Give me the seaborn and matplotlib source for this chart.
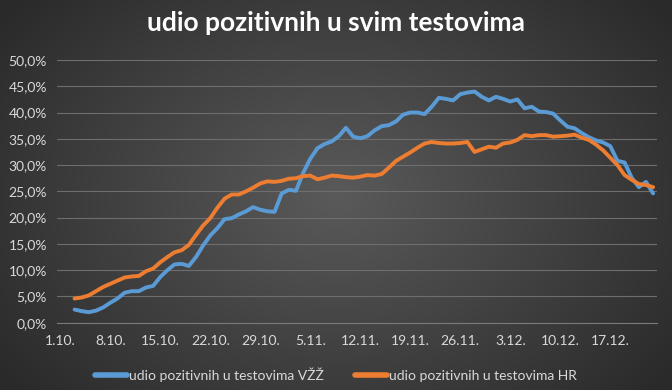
import numpy as np
import pandas as pd
import matplotlib
matplotlib.use("Agg")
import matplotlib.pyplot as plt
from matplotlib.lines import Line2D
import seaborn as sns

# ---------------- data ----------------
start_date = "2020-10-01"
end_date = "2020-12-23"
first_data_day = 2  # data begins on 3.10.

series_names = ["udio pozitivnih u testovima VŽŽ", "udio pozitivnih u testovima HR"]

vzz_pct = [2.5, 2.2, 2.0, 2.3, 2.9, 3.8, 4.6, 5.7, 6.0, 6.0, 6.7, 7.0, 8.7, 10.0,
           11.1, 11.2, 10.8, 12.5, 14.7, 16.6, 18.0, 19.7, 19.9, 20.6, 21.2, 22.0,
           21.5, 21.2, 21.1, 24.6, 25.3, 25.1, 28.5, 31.2, 33.2, 34.0, 34.5, 35.5,
           37.1, 35.4, 35.1, 35.5, 36.6, 37.4, 37.6, 38.3, 39.6, 40.0, 40.0, 39.7,
           41.1, 42.8, 42.6, 42.3, 43.5, 43.8, 44.0, 43.0, 42.3, 43.0, 42.6, 42.1,
           42.5, 40.8, 41.1, 40.2, 40.1, 39.8, 38.5, 37.3, 37.0, 36.1, 35.3, 34.7,
           34.3, 33.6, 30.8, 30.5, 27.6, 25.8, 26.8, 24.6]

hr_pct = [4.6, 4.8, 5.2, 6.0, 6.8, 7.4, 8.0, 8.6, 8.8, 8.9, 9.8, 10.3, 11.5, 12.5,
          13.4, 13.8, 14.8, 16.7, 18.5, 19.9, 21.9, 23.6, 24.4, 24.4, 25.0, 25.7,
          26.5, 26.9, 26.8, 27.0, 27.4, 27.5, 27.9, 28.0, 27.3, 27.6, 28.0, 27.9,
          27.7, 27.6, 27.8, 28.1, 28.0, 28.3, 29.5, 30.8, 31.6, 32.4, 33.3, 34.1,
          34.4, 34.2, 34.1, 34.1, 34.2, 34.4, 32.5, 33.0, 33.5, 33.3, 34.1, 34.3,
          34.8, 35.7, 35.5, 35.7, 35.7, 35.4, 35.5, 35.6, 35.8, 35.2, 34.8, 33.9,
          32.8, 31.4, 30.0, 28.1, 27.2, 26.4, 26.2, 25.8]

colors = ["#5B9BD5", "#ED7D31"]

# ---------------- build table ----------------
days = pd.date_range(start_date, end_date, freq="D")
cat_labels = [f"{d.day}.{d.month}." for d in days]
n = len(days)
idx = np.arange(first_data_day, first_data_day + len(vzz_pct))
df = pd.concat([
    pd.DataFrame({"idx": idx, "value": np.array(vzz_pct) / 100.0, "series": series_names[0]}),
    pd.DataFrame({"idx": idx, "value": np.array(hr_pct) / 100.0, "series": series_names[1]}),
])

# ---------------- style ----------------
sns.set_theme(style="dark")
plt.rcParams['font.family'] = ['Lato', 'DejaVu Sans']
txt = "#d9d9d9"

fig = plt.figure(figsize=(6.72, 3.90), dpi=100)

# radial gradient background
bg = fig.add_axes([0, 0, 1, 1], zorder=-10)
yy, xx = np.mgrid[0:390, 0:672]
r = np.sqrt(((xx - 336) / 420.0) ** 2 + ((yy - 195) / 300.0) ** 2)
r = np.clip(r, 0, 1)
c_in = np.array([0x5a, 0x5a, 0x5a]) / 255.0
c_out = np.array([0x2a, 0x2a, 0x2a]) / 255.0
img = c_in[None, None, :] * (1 - r[..., None]) + c_out[None, None, :] * r[..., None]
bg.imshow(img, aspect="auto", extent=[0, 1, 0, 1])
bg.axis("off")

ax = fig.add_axes([56.7 / 672, 1 - 322.7 / 390, 600 / 672, (322.7 - 60) / 390])
ax.set_facecolor("none")

sns.lineplot(data=df, x="idx", y="value", hue="series", palette=colors,
             linewidth=2.8, ax=ax, legend=False)
for ln in ax.lines:
    ln.set_solid_joinstyle("round")
    ln.set_solid_capstyle("round")

ax.set_xlim(-0.5, n - 0.5)
ax.set_ylim(0, 0.5)
ax.set_xlabel("")
ax.set_ylabel("")

# y axis
yt = np.arange(0, 0.5001, 0.05)
ax.set_yticks(yt)
ax.set_yticklabels([f"{v*100:.1f}%".replace(".", ",") for v in yt])
ax.grid(axis="y", color="#6e6e6e", linewidth=0.8)
ax.grid(axis="x", visible=False)

# x axis
major = list(range(0, n, 7))
ax.set_xticks(major)
ax.set_xticklabels([cat_labels[i] for i in major])
ax.set_xticks(np.arange(-0.5, n, 7), minor=True)
ax.tick_params(axis="x", which="major", length=0, pad=9, colors=txt, labelsize=10)
ax.tick_params(axis="x", which="minor", length=4, width=0.8, color="#7a7a7a", direction="out")
ax.tick_params(axis="y", length=0, pad=7, colors=txt, labelsize=10)

for s in ["top", "right", "left"]:
    ax.spines[s].set_visible(False)
ax.spines["bottom"].set_color("#7a7a7a")
ax.spines["bottom"].set_linewidth(0.8)

fig.text(0.5, 1 - 23 / 390, "udio pozitivnih u svim testovima", ha="center", va="center",
         color="white", fontsize=19, fontweight="bold")

handles = [Line2D([0], [0], color=c, lw=4, solid_capstyle="round") for c in colors]
leg = fig.legend(handles, series_names, loc="center", bbox_to_anchor=(0.5, 1 - 375 / 390),
                 ncol=2, frameon=False, handlelength=2.3, handletextpad=0.1,
                 columnspacing=2.3, fontsize=10)
for t in leg.get_texts():
    t.set_color(txt)

fig.savefig("out.png", dpi=100)
